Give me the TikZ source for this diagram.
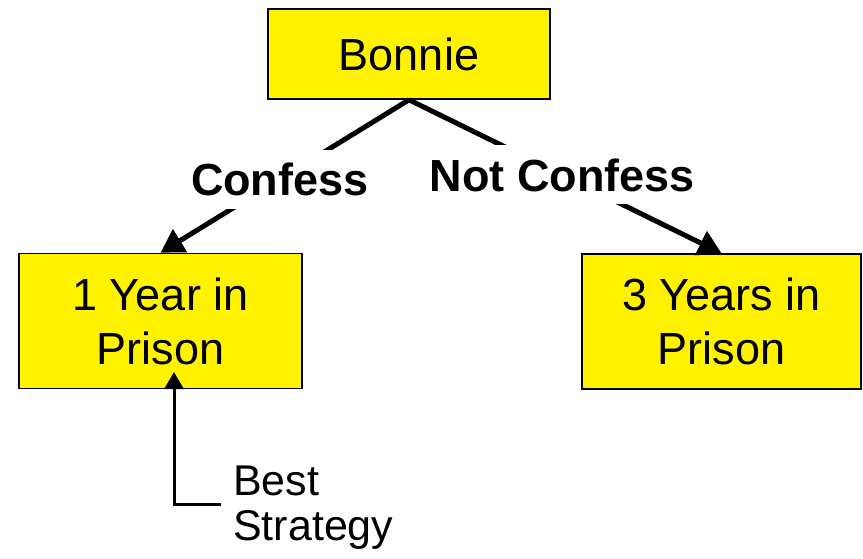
\documentclass[tikz,border=0pt]{standalone}
\usepackage{fontspec}
\setmainfont{Liberation Sans}
\usetikzlibrary{arrows.meta}
\begin{document}
\begin{tikzpicture}[x=1pt,y=-1pt,
  ybox/.style={draw=black, fill=yellow, line width=1.6pt, inner sep=0pt, align=center,
    font=\fontsize{45}{54}\selectfont},
  branch/.style={line width=5pt, -{Triangle[length=23pt,width=26pt]}},
  blabel/.style={fill=white, inner xsep=2pt, inner ysep=13pt, font=\fontsize{45}{54}\selectfont\bfseries},
  callout/.style={line width=3pt, {Triangle[length=17pt,width=19pt]}-}
]
\useasboundingbox (0,0) rectangle (863,558);
\node[ybox, minimum width=282pt, minimum height=90pt] (bonnie) at (409,54) {Bonnie};
\node[ybox, minimum width=283pt, minimum height=135pt] (left) at (160.5,321) {1 Year in\\Prison};
\node[ybox, minimum width=279pt, minimum height=135pt] (right) at (721.5,321.5) {3 Years in\\Prison};
\draw[branch] (bonnie.south) -- node[blabel, pos=0.52] (lc) {Confess} (left.north);
\draw[branch] (bonnie.south) -- node[blabel, pos=0.49] (rc) {Not Confess} (right.north);
\coordinate (tip) at (174,372);
\coordinate (cend) at (221,504);
\draw[callout] (tip) |- (cend);
\node[anchor=west, inner sep=0pt, xshift=12pt, yshift=-4pt, align=left, font=\fontsize{43}{45}\selectfont] (best) at (cend) {Best\\Strategy};
\end{tikzpicture}
\end{document}
